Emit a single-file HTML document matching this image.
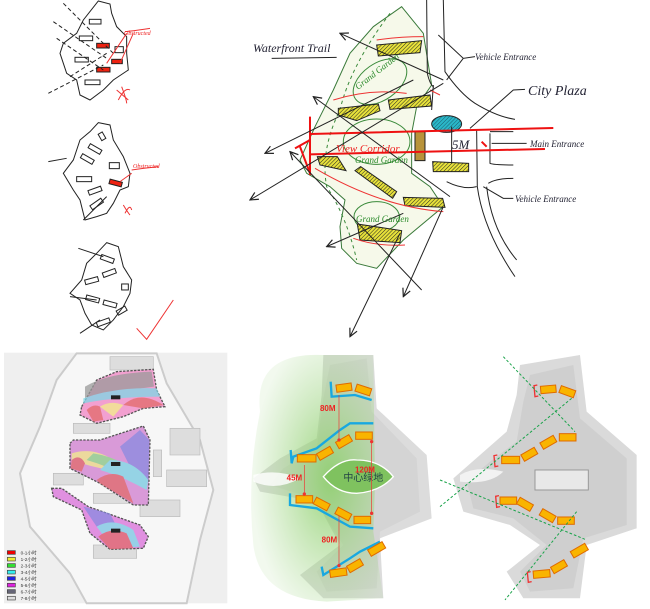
<!DOCTYPE html>
<html><head><meta charset="utf-8"><style>
html,body{margin:0;padding:0;background:#fff;width:650px;height:609px;overflow:hidden}
svg{display:block}
text{font-family:"Liberation Sans","Noto Sans CJK SC",sans-serif}
.hw{font-family:"Liberation Serif",serif;font-style:italic}
</style></head><body>
<svg width="650" height="609" viewBox="0 0 650 609" xmlns="http://www.w3.org/2000/svg">
<defs>
<pattern id="hatch" width="8" height="8" patternUnits="userSpaceOnUse" patternTransform="rotate(45)">
<rect width="8" height="8" fill="#e8e23a"/><line x1="0" y1="0" x2="0" y2="8" stroke="#222" stroke-width="3"/></pattern>
<pattern id="hatchc" width="8" height="8" patternUnits="userSpaceOnUse" patternTransform="rotate(45)">
<rect width="8" height="8" fill="#2ab7c8"/><line x1="0" y1="0" x2="0" y2="8" stroke="#134" stroke-width="2"/></pattern>
<radialGradient id="gw" cx="0.6" cy="0.5" r="0.6"><stop offset="0" stop-color="#8ccf6a" stop-opacity="0.9"/><stop offset="1" stop-color="#a8d890" stop-opacity="0.15"/></radialGradient>
<marker id="ar" markerWidth="10" markerHeight="10" refX="1" refY="5" orient="auto"><path d="M9,1 L1,5 L9,9" fill="none" stroke="#222" stroke-width="1.2"/></marker>
</defs>

<g transform="translate(30,0) scale(0.3333)" fill="none" stroke="#222" stroke-width="3">
<path d="M205,3 L240,12 L245,40 L260,80 L290,110 L290,160 L295,210 L250,240 L220,270 L180,300 L150,285 L140,240 L110,220 L90,160 L100,130 L140,100 L160,60 Z"/>
<rect x="178" y="58" width="35" height="14"/><rect x="148" y="108" width="40" height="14"/><rect x="135" y="172" width="40" height="14"/>
<rect x="255" y="140" width="25" height="18"/><rect x="165" y="240" width="45" height="14"/>
<rect x="200" y="130" width="38" height="14" fill="#e21"/><rect x="245" y="178" width="32" height="13" fill="#e21"/><rect x="200" y="202" width="40" height="14" fill="#e21"/>
<path d="M100,10 L250,160 M70,65 L230,175 M80,115 L220,210 M55,280 L220,195 M120,230 L230,160" stroke-dasharray="12 8"/>
<g stroke="#e33" stroke-width="3"><path d="M285,95 Q330,90 360,85 M290,100 L230,190 M310,100 L270,190 M275,260 Q290,300 290,310 M265,300 Q285,260 300,270 M260,270 L295,300"/></g>
<path d="M205,368 L240,375 L250,420 L280,470 L300,520 L295,560 L270,570 L250,610 L230,640 L200,650 L165,660 L150,600 L130,570 L100,520 L130,480 L150,420 L180,395 Z"/>
<rect x="205" y="402" width="22" height="14" transform="rotate(60 216 409)"/><rect x="175" y="440" width="40" height="14" transform="rotate(30 195 447)"/>
<rect x="152" y="470" width="40" height="14" transform="rotate(30 172 477)"/><rect x="140" y="530" width="45" height="15"/>
<rect x="238" y="488" width="30" height="18"/><rect x="238" y="542" width="38" height="14" fill="#e21" transform="rotate(15 257 549)"/>
<rect x="175" y="565" width="40" height="14" transform="rotate(-20 195 572)"/><rect x="180" y="605" width="40" height="14" transform="rotate(-35 200 612)"/>
<path d="M55,485 L110,475 M160,660 L230,590"/>
<g stroke="#e33"><path d="M305,510 Q340,505 385,500 M305,520 L270,545 M280,615 Q295,640 300,645 M285,640 Q300,610 305,630"/></g>
<path d="M230,728 L265,740 L280,800 L305,840 L300,880 L280,920 L250,960 L220,990 L185,975 L165,940 L150,900 L120,880 L155,840 L170,790 L200,760 Z"/>
<rect x="212" y="770" width="40" height="14" transform="rotate(20 232 777)"/><rect x="165" y="835" width="40" height="14" transform="rotate(-15 185 842)"/>
<rect x="218" y="812" width="40" height="14" transform="rotate(-20 238 819)"/><rect x="275" y="852" width="20" height="18"/>
<rect x="168" y="890" width="40" height="14" transform="rotate(15 188 897)"/><rect x="220" y="905" width="40" height="14" transform="rotate(15 240 912)"/>
<rect x="260" y="925" width="30" height="14" transform="rotate(-30 275 932)"/><rect x="200" y="960" width="40" height="14" transform="rotate(-20 220 967)"/>
<path d="M145,745 L220,770 M120,890 L200,900 M150,1000 L210,960"/>
<path d="M320,985 L350,1018 L430,900" stroke="#e33" stroke-width="3"/>
</g>
<text x="124" y="35" font-size="6" fill="#e22" class="hw">Obstructed</text>
<text x="133" y="168" font-size="6" fill="#e22" class="hw">Obstructed</text>

<g transform="translate(230,0) scale(0.3333)" fill="none" stroke="#222" stroke-width="3">
<path d="M515,20 L430,80 L360,160 L310,270 L255,380 L210,480 L230,520 L300,560 L345,600 L330,680 L335,745 L380,790 L440,805 L520,720 L640,620 L600,560 L545,520 L545,400 L560,320 L605,255 L580,100 Z" fill="#f6f9ea" stroke="#3a7a3a"/>
<path d="M590,0 L592,220 Q600,255 612,262 M640,0 L645,215 Q690,280 735,310 Q800,350 855,358 M740,390 L742,560 Q760,690 855,830 M780,395 L850,395 M780,400 L780,490 Q790,495 850,495 M775,550 Q800,535 850,535 M770,560 Q785,690 860,780 M650,545 Q700,570 740,560 M610,255 L605,330"/>
<g stroke="#3a8a3a" stroke-width="3"><path d="M480,40 Q360,200 330,330 Q270,450 290,560 Q350,650 380,780" stroke-dasharray="10 10"/>
<ellipse cx="450" cy="245" rx="90" ry="55" transform="rotate(-35 450 245)"/><ellipse cx="440" cy="425" rx="100" ry="68"/><ellipse cx="440" cy="650" rx="68" ry="45"/></g>
<g fill="url(#hatch)" stroke="#222"><path d="M440,135 L575,122 L570,158 L445,168 Z"/><path d="M325,325 L445,312 L450,332 L380,362 L325,345 Z"/><path d="M475,300 L600,285 L605,318 L480,328 Z"/>
<path d="M262,470 L322,470 L348,512 L270,495 Z"/><path d="M375,512 L392,500 L500,575 L488,595 Z"/><path d="M520,592 L638,595 L645,622 L525,617 Z"/>
<path d="M382,672 L515,692 L510,728 L390,720 Z"/><path d="M608,485 L716,490 L716,515 L610,515 Z"/><path d="M555,395 L585,395 L585,482 L555,482 Z" fill="#b8933a"/></g>
<ellipse cx="650" cy="372" rx="45" ry="25" fill="url(#hatchc)"/>
<g stroke="#e11" stroke-width="6"><path d="M240,402 L970,384 M240,463 L945,447 M240,350 L240,525 M195,445 L240,420 M210,440 L240,520 M755,425 L770,440"/></g>
<g stroke="#e33" stroke-width="3"><path d="M440,120 Q510,110 580,110 M310,300 Q420,265 530,280 M600,270 L630,285 M255,505 Q450,620 640,635 M370,715 Q440,740 525,735"/></g>
<g marker-start="url(#ar)"><path d="M330,100 L640,240"/><path d="M105,460 L550,240"/><path d="M250,290 L660,590"/><path d="M60,600 L640,250"/><path d="M360,1010 L510,700"/><path d="M520,890 L640,620"/><path d="M290,740 L520,640"/><path d="M180,455 L575,870"/></g>
<path d="M125,175 L320,172 M625,105 L700,175 L735,170 M650,240 L700,175 M720,385 L850,270 L885,268 M785,430 L890,430 M760,560 L820,595 L850,595 M665,380 L665,490"/>
</g>
<g fill="#223">
<text x="253" y="52" font-size="12" class="hw">Waterfront Trail</text>
<text x="475" y="60" font-size="9" class="hw">Vehicle Entrance</text>
<text x="528" y="95" font-size="14" class="hw">City Plaza</text>
<text x="530" y="147" font-size="9" class="hw">Main Entrance</text>
<text x="515" y="202" font-size="9" class="hw">Vehicle Entrance</text>
<text x="452" y="149" font-size="13" class="hw">5M</text>
</g>
<text x="336" y="152" font-size="11" fill="#e22" class="hw">View Corridor</text>
<text x="355" y="163" font-size="9" fill="#2a8a2a" class="hw">Grand Garden</text>
<text x="356" y="222" font-size="9" fill="#2a8a2a" class="hw">Grand Garden</text>
<text x="358" y="90" font-size="9" fill="#2a8a2a" class="hw" transform="rotate(-38 358 90)">Grand Garden</text>

<g transform="translate(0,340) scale(0.3333)">
<rect x="12" y="38" width="670" height="752" fill="#efefef"/>
<path d="M230,40 L170,120 L120,260 L60,400 L90,560 L210,700 L260,790 L560,790 L600,600 L640,450 L600,300 L500,130 L470,40 Z" fill="#f7f7f7" stroke="#ccc" stroke-width="6"/>
<g fill="#ddd" stroke="#bbb" stroke-width="2"><rect x="330" y="50" width="130" height="40"/><rect x="220" y="250" width="110" height="30"/><rect x="160" y="400" width="90" height="35"/><rect x="510" y="265" width="90" height="80"/><rect x="500" y="390" width="120" height="50"/><rect x="280" y="460" width="110" height="30"/><rect x="420" y="480" width="120" height="50"/><rect x="280" y="615" width="130" height="40"/><rect x="460" y="330" width="25" height="80"/></g>
<g stroke="#555" stroke-width="4" stroke-dasharray="7 4">
<path d="M245,200 L290,120 L350,95 L460,88 L470,150 L495,200 L430,205 L370,230 L290,250 L240,225 Z" fill="#f2a0d0"/>
<path d="M210,310 L220,300 L300,300 L430,258 L450,300 L445,495 L400,495 L300,430 L210,385 Z" fill="#d99ad8"/>
<path d="M155,445 L185,445 L265,500 L420,555 L445,590 L430,625 L330,628 L270,580 L245,510 L160,470 Z" fill="#e090e0"/>
</g>
<g opacity="0.75">
<path d="M255,140 Q320,100 455,95 L462,140 Q380,150 255,180 Z" fill="#9a9a9a"/>
<path d="M250,175 Q350,140 470,145 L480,170 Q350,170 250,190 Z" fill="#7fd7e6"/>
<path d="M260,210 Q280,190 300,200 L310,240 L280,245 Z" fill="#e26a6a"/>
<path d="M370,195 Q420,150 490,195 L430,205 Z" fill="#e26a6a"/>
<path d="M300,200 Q330,180 370,195 L340,230 Z" fill="#f3ef8a"/>
<path d="M420,270 L448,300 L445,420 L400,400 L360,320 Z" fill="#8a8ae0"/>
<path d="M215,340 Q280,320 340,360 L330,390 Q270,380 215,360 Z" fill="#f3ef8a"/>
<path d="M280,340 Q350,350 420,400 L400,420 Q330,380 260,360 Z" fill="#8fe08a"/>
<path d="M330,360 Q400,360 445,420 L440,450 Q370,410 300,390 Z" fill="#7fe6ea"/>
<path d="M290,420 Q330,390 370,410 L400,490 L300,430 Z" fill="#e26a6a"/>
<path d="M215,360 Q240,340 255,370 L245,395 L212,385 Z" fill="#e26a6a"/>
<path d="M250,500 L330,520 L350,560 L290,560 Z" fill="#8a8ae0"/>
<path d="M290,560 Q340,530 400,570 L420,620 L340,625 Z" fill="#7fe6ea"/>
<path d="M295,590 Q330,560 380,580 L400,625 L330,628 Z" fill="#e26a6a"/>
</g>
<g fill="#222"><rect x="333" y="166" width="28" height="12"/><rect x="333" y="366" width="28" height="12"/><rect x="333" y="566" width="28" height="12"/></g>
<g stroke="#444" stroke-width="2"><rect x="22" y="632" width="24" height="11" fill="#e00"/><rect x="22" y="652" width="24" height="11" fill="#ee3"/><rect x="22" y="671" width="24" height="11" fill="#3d3"/><rect x="22" y="691" width="24" height="11" fill="#3ee"/><rect x="22" y="710" width="24" height="11" fill="#22d"/><rect x="22" y="730" width="24" height="11" fill="#d2d"/><rect x="22" y="749" width="24" height="11" fill="#667"/><rect x="22" y="769" width="24" height="11" fill="#ddd"/></g>
<g font-size="14" fill="#333"><text x="62" y="643">0-1小时</text><text x="62" y="663">1-2小时</text><text x="62" y="682">2-3小时</text><text x="62" y="702">3-4小时</text><text x="62" y="721">4-5小时</text><text x="62" y="741">5-6小时</text><text x="62" y="760">6-7小时</text><text x="62" y="780">7-8小时</text></g>
</g>

<g transform="translate(240,345) scale(0.3333)">
<path d="M250,30 L400,30 L410,190 L560,330 L575,520 L420,580 L430,760 L250,760 L180,690 L300,600 L230,470 L60,440 L40,400 L120,340 L230,280 L245,150 Z" fill="#dcdcdc"/>
<path d="M270,60 L380,40 L395,200 L530,340 L540,500 L420,560 L410,730 L260,740 L230,680 L310,600 L220,460 L90,420 L130,370 L230,310 L250,160 Z" fill="#cfcfcf" opacity="0.6"/>
<path d="M60,200 Q40,20 250,30 L400,30 L405,420 L400,560 L430,760 L260,770 Q60,760 40,600 Q20,400 60,200 Z" fill="url(#gw)"/>
<path d="M40,390 Q110,370 180,400 Q110,440 40,410 Z" fill="#fff" opacity="0.8"/>
<path d="M250,395 Q300,340 350,345 Q420,345 460,395 Q420,440 350,445 Q290,445 250,395 Z" fill="#7fc25f" stroke="#fff" stroke-width="4"/>
<text x="310" y="408" font-size="30" fill="#244">中心绿地</text>
<g fill="none" stroke="#18a8e0" stroke-width="7"><path d="M272,110 L275,155 L345,150 L395,165"/><path d="M152,315 L155,355 L160,335 L230,310 L300,255 L330,235 L400,235"/><path d="M150,445 L150,480 L230,490 L330,545 L400,550"/><path d="M245,665 L250,690 L330,640 L360,620 L420,590"/></g>
<g fill="#f9b400" stroke="#e06b00" stroke-width="3">
<rect x="-23" y="-11" width="46" height="22" transform="translate(312,128) rotate(-8)"/><rect x="-23" y="-11" width="46" height="22" transform="translate(370,135) rotate(18)"/>
<rect x="-28" y="-11" width="56" height="22" transform="translate(200,340)"/><rect x="-23" y="-11" width="46" height="22" transform="translate(255,325) rotate(-30)"/>
<rect x="-23" y="-11" width="46" height="22" transform="translate(312,290) rotate(-30)"/><rect x="-25" y="-11" width="50" height="22" transform="translate(372,272)"/>
<rect x="-25" y="-11" width="50" height="22" transform="translate(193,463)"/><rect x="-23" y="-11" width="46" height="22" transform="translate(245,477) rotate(28)"/>
<rect x="-23" y="-11" width="46" height="22" transform="translate(310,507) rotate(28)"/><rect x="-25" y="-11" width="50" height="22" transform="translate(367,525)"/>
<rect x="-25" y="-11" width="50" height="22" transform="translate(410,612) rotate(-30)"/><rect x="-23" y="-11" width="46" height="22" transform="translate(345,662) rotate(-30)"/>
<rect x="-25" y="-11" width="50" height="22" transform="translate(295,683) rotate(-8)"/></g>
<g stroke="#e33" stroke-width="2" fill="#e33"><path d="M297,150 L297,285 M395,290 L395,505 M193,360 L193,447 M297,512 L297,662"/><circle cx="297" cy="285" r="4"/><circle cx="395" cy="290" r="4"/><circle cx="395" cy="505" r="4"/><circle cx="193" cy="447" r="4"/><circle cx="297" cy="662" r="4"/></g>
<g font-size="24" font-weight="bold" fill="#e22"><text x="240" y="198">80M</text><text x="345" y="383">120M</text><text x="140" y="407">45M</text><text x="245" y="592">80M</text></g>
</g>

<g transform="translate(440,345) scale(0.3333)">
<path d="M240,60 L420,30 L440,200 L590,330 L590,550 L440,600 L420,760 L250,760 L200,680 L300,600 L210,540 L70,500 L40,400 L120,330 L200,260 L230,150 Z" fill="#dadada"/>
<path d="M270,90 L400,60 L420,220 L560,340 L560,540 L430,580 L400,730 L270,740 L240,680 L320,600 L220,520 L100,490 L80,410 L150,350 L230,290 L250,170 Z" fill="#c8c8c8" opacity="0.6"/>
<rect x="285" y="375" width="160" height="60" fill="#e8e8e8" stroke="#999" stroke-width="3"/>
<path d="M60,390 Q110,360 190,380 Q150,420 60,410 Z" fill="#f2f2f2"/>
<g fill="#f9b400" stroke="#e06b00" stroke-width="3">
<rect x="-23" y="-11" width="46" height="22" transform="translate(325,133) rotate(-5)"/><rect x="-23" y="-11" width="46" height="22" transform="translate(382,140) rotate(20)"/>
<rect x="-27" y="-11" width="54" height="22" transform="translate(212,345)"/><rect x="-23" y="-11" width="46" height="22" transform="translate(268,328) rotate(-30)"/>
<rect x="-23" y="-11" width="46" height="22" transform="translate(325,292) rotate(-30)"/><rect x="-25" y="-11" width="50" height="22" transform="translate(383,277)"/>
<rect x="-25" y="-11" width="50" height="22" transform="translate(205,467)"/><rect x="-23" y="-11" width="46" height="22" transform="translate(255,478) rotate(30)"/>
<rect x="-23" y="-11" width="46" height="22" transform="translate(323,512) rotate(30)"/><rect x="-25" y="-11" width="50" height="22" transform="translate(378,527)"/>
<rect x="-25" y="-11" width="50" height="22" transform="translate(418,617) rotate(-30)"/><rect x="-23" y="-11" width="46" height="22" transform="translate(357,665) rotate(-30)"/>
<rect x="-25" y="-11" width="50" height="22" transform="translate(305,687) rotate(-5)"/></g>
<g fill="none" stroke="#e33" stroke-width="4"><path d="M292,120 L282,122 L285,155 L295,153"/><path d="M172,330 L162,332 L165,365 L175,363"/><path d="M177,452 L167,454 L170,487 L180,485"/><path d="M272,680 L262,682 L265,712 L275,710"/></g>
<g stroke="#1aa34a" stroke-width="3" stroke-dasharray="8 6"><path d="M190,35 L405,260"/><path d="M395,160 L0,485"/><path d="M0,405 L440,585"/><path d="M410,500 L195,765"/></g>
</g>
</svg>
</body></html>
